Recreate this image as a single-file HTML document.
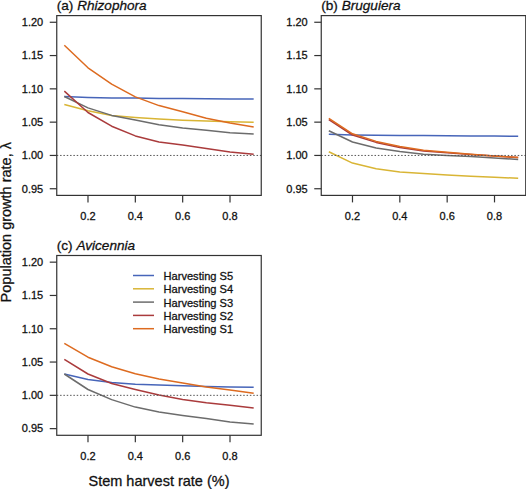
<!DOCTYPE html>
<html><head><meta charset="utf-8"><style>
html,body{margin:0;padding:0;background:#fff;}
body{width:526px;height:489px;overflow:hidden;}
svg{display:block;}
text{font-family:"Liberation Sans", sans-serif;fill:#111;stroke:#111;stroke-width:0.28px;}
.tk{font-size:11px;}
.ti{font-size:13.6px;}
.lg{font-size:11.1px;}
.ax{font-size:14.5px;}
</style></head><body>
<svg width="526" height="489" viewBox="0 0 526 489">
<rect width="526" height="489" fill="#fff"/>
<polyline points="64.32,96.50 87.99,97.40 111.66,98.00 135.33,98.10 159.00,98.40 182.67,98.60 206.34,98.80 230.01,98.90 253.68,99.00" fill="none" stroke="#4765b9" stroke-width="1.5" stroke-linejoin="round" stroke-linecap="butt"/>
<polyline points="64.32,104.50 87.99,110.70 111.66,115.60 135.33,117.50 159.00,119.10 182.67,120.30 206.34,121.10 230.01,121.80 253.68,122.30" fill="none" stroke="#d9b535" stroke-width="1.5" stroke-linejoin="round" stroke-linecap="butt"/>
<polyline points="64.32,96.50 87.99,107.90 111.66,115.40 135.33,120.00 159.00,124.80 182.67,127.90 206.34,130.30 230.01,132.70 253.68,134.00" fill="none" stroke="#6c6c6c" stroke-width="1.5" stroke-linejoin="round" stroke-linecap="butt"/>
<polyline points="64.32,91.10 87.99,112.50 111.66,126.20 135.33,135.90 159.00,142.00 182.67,145.00 206.34,148.60 230.01,151.90 253.68,154.30" fill="none" stroke="#aa3b3c" stroke-width="1.5" stroke-linejoin="round" stroke-linecap="butt"/>
<polyline points="64.32,45.30 87.99,67.80 111.66,84.20 135.33,96.90 159.00,105.60 182.67,111.70 206.34,118.20 230.01,123.10 253.68,127.10" fill="none" stroke="#dd6b20" stroke-width="1.5" stroke-linejoin="round" stroke-linecap="butt"/>
<line x1="56.75" y1="155.44" x2="261.25" y2="155.44" stroke="#555" stroke-width="1" stroke-dasharray="1.5 1.83" />
<rect x="56.75" y="15.6" width="204.5" height="179.8" fill="none" stroke="#333" stroke-width="1.2"/>
<line x1="49.75" y1="188.74" x2="56.75" y2="188.74" stroke="#333" stroke-width="1.2"/>
<text x="43.25" y="192.59" text-anchor="end" class="tk">0.95</text>
<line x1="49.75" y1="155.44" x2="56.75" y2="155.44" stroke="#333" stroke-width="1.2"/>
<text x="43.25" y="159.29" text-anchor="end" class="tk">1.00</text>
<line x1="49.75" y1="122.15" x2="56.75" y2="122.15" stroke="#333" stroke-width="1.2"/>
<text x="43.25" y="126.00" text-anchor="end" class="tk">1.05</text>
<line x1="49.75" y1="88.85" x2="56.75" y2="88.85" stroke="#333" stroke-width="1.2"/>
<text x="43.25" y="92.70" text-anchor="end" class="tk">1.10</text>
<line x1="49.75" y1="55.56" x2="56.75" y2="55.56" stroke="#333" stroke-width="1.2"/>
<text x="43.25" y="59.41" text-anchor="end" class="tk">1.15</text>
<line x1="49.75" y1="22.26" x2="56.75" y2="22.26" stroke="#333" stroke-width="1.2"/>
<text x="43.25" y="26.11" text-anchor="end" class="tk">1.20</text>
<line x1="87.99" y1="195.4" x2="87.99" y2="202.4" stroke="#333" stroke-width="1.2"/>
<text x="87.99" y="219.90" text-anchor="middle" class="tk">0.2</text>
<line x1="135.33" y1="195.4" x2="135.33" y2="202.4" stroke="#333" stroke-width="1.2"/>
<text x="135.33" y="219.90" text-anchor="middle" class="tk">0.4</text>
<line x1="182.67" y1="195.4" x2="182.67" y2="202.4" stroke="#333" stroke-width="1.2"/>
<text x="182.67" y="219.90" text-anchor="middle" class="tk">0.6</text>
<line x1="230.01" y1="195.4" x2="230.01" y2="202.4" stroke="#333" stroke-width="1.2"/>
<text x="230.01" y="219.90" text-anchor="middle" class="tk">0.8</text>
<text x="56.75" y="10.00" class="ti">(a) <tspan font-style="italic">Rhizophora</tspan></text>
<polyline points="328.82,134.30 352.49,134.90 376.16,135.30 399.83,135.50 423.50,135.60 447.17,135.80 470.84,136.00 494.51,136.10 518.18,136.20" fill="none" stroke="#4765b9" stroke-width="1.5" stroke-linejoin="round" stroke-linecap="butt"/>
<polyline points="328.82,151.70 352.49,163.10 376.16,168.80 399.83,171.90 423.50,173.50 447.17,174.90 470.84,176.30 494.51,177.30 518.18,178.30" fill="none" stroke="#d9b535" stroke-width="1.5" stroke-linejoin="round" stroke-linecap="butt"/>
<polyline points="328.82,130.80 352.49,142.00 376.16,147.90 399.83,151.50 423.50,154.20 447.17,155.60 470.84,156.60 494.51,158.10 518.18,159.40" fill="none" stroke="#6c6c6c" stroke-width="1.5" stroke-linejoin="round" stroke-linecap="butt"/>
<polyline points="328.82,119.70 352.49,135.00 376.16,142.40 399.83,147.40 423.50,150.90 447.17,152.80 470.84,154.60 494.51,156.10 518.18,157.60" fill="none" stroke="#aa3b3c" stroke-width="1.5" stroke-linejoin="round" stroke-linecap="butt"/>
<polyline points="328.82,118.40 352.49,133.80 376.16,141.40 399.83,146.60 423.50,150.30 447.17,152.30 470.84,154.30 494.51,155.90 518.18,157.50" fill="none" stroke="#dd6b20" stroke-width="1.5" stroke-linejoin="round" stroke-linecap="butt"/>
<line x1="321.25" y1="155.44" x2="525.75" y2="155.44" stroke="#555" stroke-width="1" stroke-dasharray="1.5 1.83" />
<rect x="321.25" y="15.6" width="204.5" height="179.8" fill="none" stroke="#333" stroke-width="1.2"/>
<line x1="314.25" y1="188.74" x2="321.25" y2="188.74" stroke="#333" stroke-width="1.2"/>
<text x="307.75" y="192.59" text-anchor="end" class="tk">0.95</text>
<line x1="314.25" y1="155.44" x2="321.25" y2="155.44" stroke="#333" stroke-width="1.2"/>
<text x="307.75" y="159.29" text-anchor="end" class="tk">1.00</text>
<line x1="314.25" y1="122.15" x2="321.25" y2="122.15" stroke="#333" stroke-width="1.2"/>
<text x="307.75" y="126.00" text-anchor="end" class="tk">1.05</text>
<line x1="314.25" y1="88.85" x2="321.25" y2="88.85" stroke="#333" stroke-width="1.2"/>
<text x="307.75" y="92.70" text-anchor="end" class="tk">1.10</text>
<line x1="314.25" y1="55.56" x2="321.25" y2="55.56" stroke="#333" stroke-width="1.2"/>
<text x="307.75" y="59.41" text-anchor="end" class="tk">1.15</text>
<line x1="314.25" y1="22.26" x2="321.25" y2="22.26" stroke="#333" stroke-width="1.2"/>
<text x="307.75" y="26.11" text-anchor="end" class="tk">1.20</text>
<line x1="352.49" y1="195.4" x2="352.49" y2="202.4" stroke="#333" stroke-width="1.2"/>
<text x="352.49" y="219.90" text-anchor="middle" class="tk">0.2</text>
<line x1="399.83" y1="195.4" x2="399.83" y2="202.4" stroke="#333" stroke-width="1.2"/>
<text x="399.83" y="219.90" text-anchor="middle" class="tk">0.4</text>
<line x1="447.17" y1="195.4" x2="447.17" y2="202.4" stroke="#333" stroke-width="1.2"/>
<text x="447.17" y="219.90" text-anchor="middle" class="tk">0.6</text>
<line x1="494.51" y1="195.4" x2="494.51" y2="202.4" stroke="#333" stroke-width="1.2"/>
<text x="494.51" y="219.90" text-anchor="middle" class="tk">0.8</text>
<text x="321.25" y="10.00" class="ti">(b) <tspan font-style="italic">Bruguiera</tspan></text>
<polyline points="64.32,374.00 87.99,379.50 111.66,382.50 135.33,384.30 159.00,385.10 182.67,385.70 206.34,386.40 230.01,386.90 253.68,387.30" fill="none" stroke="#4765b9" stroke-width="1.5" stroke-linejoin="round" stroke-linecap="butt"/>
<polyline points="64.32,374.00 87.99,389.50 111.66,399.60 135.33,407.10 159.00,412.10 182.67,415.40 206.34,418.60 230.01,421.90 253.68,423.90" fill="none" stroke="#6c6c6c" stroke-width="1.5" stroke-linejoin="round" stroke-linecap="butt"/>
<polyline points="64.32,359.30 87.99,374.00 111.66,383.50 135.33,389.40 159.00,395.00 182.67,399.40 206.34,402.80 230.01,405.30 253.68,408.10" fill="none" stroke="#aa3b3c" stroke-width="1.5" stroke-linejoin="round" stroke-linecap="butt"/>
<polyline points="64.32,343.30 87.99,357.20 111.66,366.70 135.33,373.70 159.00,379.00 182.67,383.00 206.34,387.10 230.01,390.00 253.68,393.30" fill="none" stroke="#dd6b20" stroke-width="1.5" stroke-linejoin="round" stroke-linecap="butt"/>
<line x1="56.75" y1="395.34" x2="261.25" y2="395.34" stroke="#555" stroke-width="1" stroke-dasharray="1.5 1.83" />
<rect x="56.75" y="255.5" width="204.5" height="179.8" fill="none" stroke="#333" stroke-width="1.2"/>
<line x1="49.75" y1="428.64" x2="56.75" y2="428.64" stroke="#333" stroke-width="1.2"/>
<text x="43.25" y="432.49" text-anchor="end" class="tk">0.95</text>
<line x1="49.75" y1="395.34" x2="56.75" y2="395.34" stroke="#333" stroke-width="1.2"/>
<text x="43.25" y="399.19" text-anchor="end" class="tk">1.00</text>
<line x1="49.75" y1="362.05" x2="56.75" y2="362.05" stroke="#333" stroke-width="1.2"/>
<text x="43.25" y="365.90" text-anchor="end" class="tk">1.05</text>
<line x1="49.75" y1="328.75" x2="56.75" y2="328.75" stroke="#333" stroke-width="1.2"/>
<text x="43.25" y="332.60" text-anchor="end" class="tk">1.10</text>
<line x1="49.75" y1="295.46" x2="56.75" y2="295.46" stroke="#333" stroke-width="1.2"/>
<text x="43.25" y="299.31" text-anchor="end" class="tk">1.15</text>
<line x1="49.75" y1="262.16" x2="56.75" y2="262.16" stroke="#333" stroke-width="1.2"/>
<text x="43.25" y="266.01" text-anchor="end" class="tk">1.20</text>
<line x1="87.99" y1="435.3" x2="87.99" y2="442.3" stroke="#333" stroke-width="1.2"/>
<text x="87.99" y="459.80" text-anchor="middle" class="tk">0.2</text>
<line x1="135.33" y1="435.3" x2="135.33" y2="442.3" stroke="#333" stroke-width="1.2"/>
<text x="135.33" y="459.80" text-anchor="middle" class="tk">0.4</text>
<line x1="182.67" y1="435.3" x2="182.67" y2="442.3" stroke="#333" stroke-width="1.2"/>
<text x="182.67" y="459.80" text-anchor="middle" class="tk">0.6</text>
<line x1="230.01" y1="435.3" x2="230.01" y2="442.3" stroke="#333" stroke-width="1.2"/>
<text x="230.01" y="459.80" text-anchor="middle" class="tk">0.8</text>
<text x="56.75" y="249.90" class="ti">(c) <tspan font-style="italic">Avicennia</tspan></text>
<line x1="133" y1="275.50" x2="154" y2="275.50" stroke="#4765b9" stroke-width="1.5"/>
<text x="163.5" y="279.90" class="lg">Harvesting S5</text>
<line x1="133" y1="288.80" x2="154" y2="288.80" stroke="#d9b535" stroke-width="1.5"/>
<text x="163.5" y="293.20" class="lg">Harvesting S4</text>
<line x1="133" y1="302.10" x2="154" y2="302.10" stroke="#6c6c6c" stroke-width="1.5"/>
<text x="163.5" y="306.50" class="lg">Harvesting S3</text>
<line x1="133" y1="315.40" x2="154" y2="315.40" stroke="#aa3b3c" stroke-width="1.5"/>
<text x="163.5" y="319.80" class="lg">Harvesting S2</text>
<line x1="133" y1="328.70" x2="154" y2="328.70" stroke="#dd6b20" stroke-width="1.5"/>
<text x="163.5" y="333.10" class="lg">Harvesting S1</text>
<text x="159" y="486" text-anchor="middle" class="ax">Stem harvest rate (%)</text>
<text transform="translate(10.8,222.2) rotate(-90)" text-anchor="middle" class="ax">Population growth rate, λ</text>
</svg>
</body></html>
